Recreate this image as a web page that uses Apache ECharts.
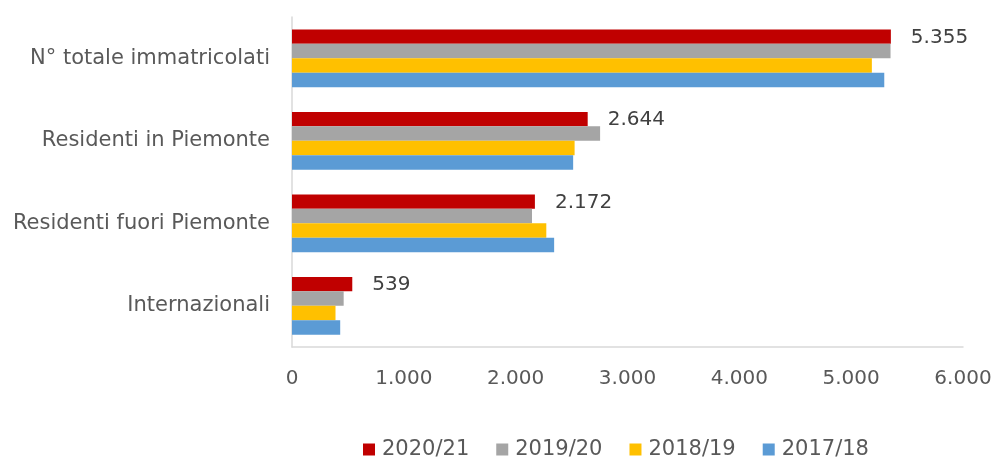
<!DOCTYPE html>
<html>
<head>
<meta charset="utf-8">
<script src="https://cdn.jsdelivr.net/npm/echarts@6/dist/echarts.min.js"></script>
<style>
	html, body { margin: 0; padding: 0; background: #fff; }
	#chart { width: 998px; height: 458px; }
</style>
</head>
<body>
<div id="chart"></div>
<script>
	// categorie (dall'alto verso il basso)
	var categorie = ['N° totale immatricolati', 'Residenti in Piemonte', 'Residenti fuori Piemonte', 'Internazionali'];
	var anni = ['2020/21', '2019/20', '2018/19', '2017/18'];
	var colori = ['#C00000', '#A5A5A5', '#FFC000', '#5B9BD5'];

	var val_2020_21 = [5355, 2644, 2172, 539];
	var val_2019_20 = [5352, 2755, 2146, 462];
	var val_2018_19 = [5185, 2527, 2274, 389];
	var val_2017_18 = [5296, 2514, 2344, 431];
	var valori = [val_2020_21, val_2019_20, val_2018_19, val_2017_18];

	var xTicks = [0, 1000, 2000, 3000, 4000, 5000, 6000];

	// separatore delle migliaia con il punto
	function fmt(v) {
		return String(v).replace(/\B(?=(\d{3})+(?!\d))/g, '.');
	}

	var chart = echarts.init(document.getElementById('chart'));

	var series = [];
	for (var i = 0; i < anni.length; i++) {
		series.push({
			name: anni[i],
			type: 'bar',
			data: valori[i],
			barGap: '0%',
			barCategoryGap: '30%',
			itemStyle: { color: colori[i] },
			label: {
				show: i === 0,
				position: 'right',
				distance: 20,
				offset: [0, 1],
				color: '#404040',
				fontSize: 20,
				fontFamily: 'DejaVu Sans',
				formatter: function (p) { return fmt(p.value); }
			}
		});
	}

	var option = {
		animation: false,
		textStyle: { fontFamily: 'DejaVu Sans' },
		grid: {
			left: 292,
			right: 35,
			top: 17,
			bottom: 111
		},
		legend: {
			data: anni,
			top: 434,
			left: 358,
			itemWidth: 12,
			itemHeight: 12,
			itemGap: 27,
			icon: 'rect',
			textStyle: { color: '#595959', fontSize: 21, fontFamily: 'DejaVu Sans', padding: [0, 0, 0, 2] }
		},
		xAxis: {
			type: 'value',
			min: xTicks[0],
			max: xTicks[xTicks.length - 1],
			interval: 1000,
			axisLine: { show: true, lineStyle: { color: '#D9D9D9', width: 1.5 } },
			axisTick: { show: false },
			splitLine: { show: false },
			axisLabel: {
				color: '#595959',
				fontSize: 20,
				margin: 22,
				formatter: function (v) { return fmt(v); }
			}
		},
		yAxis: {
			type: 'category',
			inverse: true,
			data: categorie,
			axisLine: { show: true, lineStyle: { color: '#D9D9D9', width: 1.5 } },
			axisTick: { show: false },
			axisLabel: {
				color: '#595959',
				fontSize: 21,
				margin: 22
			}
		},
		series: series
	};

	chart.setOption(option);
</script>
</body>
</html>
